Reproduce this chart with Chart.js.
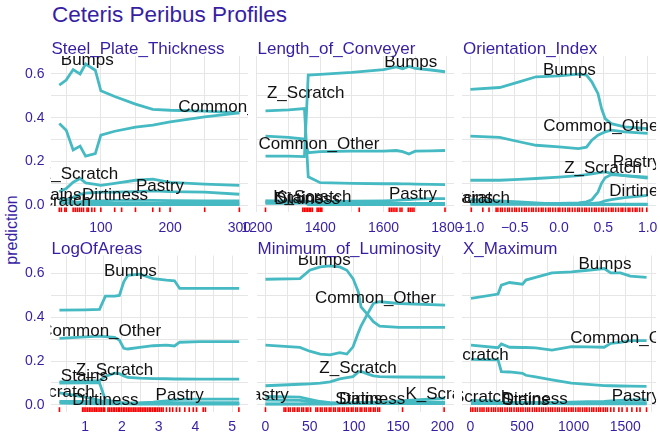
<!DOCTYPE html>
<html>
<head>
<meta charset="utf-8">
<script src="https://cdn.jsdelivr.net/npm/chart.js@4.4.1/dist/chart.umd.min.js"></script>
<style>
  body { margin: 0; background: #fff; }
  #wrap { position: relative; width: 660px; height: 436px; overflow: hidden; font-family: "Liberation Sans", Arial, sans-serif; }
  #title { position: absolute; left: 52px; top: 2px; font-size: 22.5px; line-height: 26px; color: #371ea3; white-space: nowrap; }
  #ylab { position: absolute; left: 12px; top: 230px; transform: translate(-50%, -50%) rotate(-90deg); font-size: 16px; color: #371ea3; white-space: nowrap; }
  canvas { position: absolute; left: 0; }
</style>
</head>
<body>
<div id="wrap">
  <div id="title">Ceteris Peribus Profiles</div>
  <div id="ylab">prediction</div>
</div>
<script>
// y axis (shared by all panels)
const yTicks = [0, 0.2, 0.4, 0.6];
const yMinor = [0.1, 0.3, 0.5];

// Steel_Plate_Thickness
const thickX = [40, 50, 60, 70, 78, 92, 100, 120, 150, 175, 200, 250, 300];
const thickBumps = [0.549, 0.572, 0.62, 0.60, 0.645, 0.617, 0.523, 0.497, 0.462, 0.438, 0.434, 0.43, 0.422];
const thickOther = [0.373, 0.343, 0.252, 0.27, 0.224, 0.236, 0.32, 0.338, 0.357, 0.366, 0.381, 0.404, 0.422];
const thickZ = [0.061, 0.076, 0.105, 0.122, 0.102, 0.095, 0.091, 0.1, 0.114, 0.119, 0.104, 0.096, 0.091];
const thickPastry = [0.02, 0.026, 0.036, 0.05, 0.055, 0.058, 0.06, 0.06, 0.062, 0.065, 0.062, 0.06, 0.05];
const thickDirt = [0.01, 0.011, 0.012, 0.015, 0.018, 0.02, 0.02, 0.022, 0.022, 0.022, 0.021, 0.02, 0.02];
const thickStains = [0.03, 0.026, 0.016, 0.011, 0.009, 0.008, 0.008, 0.008, 0.008, 0.008, 0.008, 0.008, 0.008];
const thickK = [0.012, 0.01, 0.006, 0.004, 0.003, 0.003, 0.003, 0.003, 0.003, 0.003, 0.003, 0.003, 0.003];
const thickRug = [40, 43, 48, 50, 60, 63, 66, 69, 72, 75, 80, 82, 87, 91, 100, 120, 130, 150, 175, 185, 200, 250, 300];
const thickTicks = [100, 200, 300];
const thickMinor = [50, 150, 250];
const thickLabels = [['Bumps', 80.4, 0.67], ['Common_Other', 299, 0.452], ['Z_Scratch', 69.3, 0.146], ['Pastry', 185.4, 0.091],
  ['Stains', 38, 0.051], ['Dirtiness', 120.4, 0.05], ['K_Scratch', 29, 0.026]];

// Length_of_Conveyer
const convX = [1227, 1300, 1350, 1362, 1400, 1500, 1600, 1640, 1660, 1680, 1700, 1750, 1794];
const convBumps = [0.224, 0.224, 0.222, 0.595, 0.598, 0.607, 0.62, 0.632, 0.624, 0.634, 0.625, 0.618, 0.61];
const convOther = [0.316, 0.31, 0.302, 0.24, 0.245, 0.247, 0.247, 0.25, 0.245, 0.234, 0.247, 0.248, 0.25];
const convZ = [0.431, 0.436, 0.442, 0.13, 0.103, 0.1, 0.098, 0.098, 0.097, 0.097, 0.096, 0.095, 0.094];
const convPastry = [0.01, 0.01, 0.012, 0.015, 0.016, 0.018, 0.02, 0.022, 0.024, 0.026, 0.028, 0.03, 0.03];
const convDirt = [0.018, 0.016, 0.015, 0.008, 0.008, 0.008, 0.008, 0.008, 0.008, 0.008, 0.008, 0.008, 0.008];
const convStains = [0.01, 0.01, 0.01, 0.005, 0.005, 0.005, 0.005, 0.005, 0.005, 0.005, 0.005, 0.005, 0.005];
const convK = [0.02, 0.02, 0.02, 0.003, 0.003, 0.003, 0.003, 0.003, 0.003, 0.003, 0.003, 0.003, 0.003];
const convRug = [1227, 1345, 1350, 1355, 1360, 1365, 1370, 1375, 1390, 1395, 1400, 1405, 1523, 1618, 1624, 1630, 1636, 1642,
  1652, 1658, 1678, 1684, 1690, 1696, 1794];
const convTicks = [1200, 1400, 1600, 1800];
const convMinor = [1300, 1500, 1700];
const convLabels = [['Bumps', 1686, 0.659], ['Z_Scratch', 1354, 0.517], ['Common_Other', 1396, 0.283], ['Pastry', 1693, 0.057],
  ['Stains', 1336, 0.038], ['Dirtiness', 1359, 0.035], ['K_Scratch', 1375, 0.043]];

// Orientation_Index
const orientX = [-1.0, -0.67, -0.45, -0.26, 0.0, 0.22, 0.31, 0.37, 0.44, 0.48, 0.52, 0.59, 0.74, 1.0];
const orientBumps = [0.529, 0.538, 0.564, 0.587, 0.591, 0.599, 0.595, 0.564, 0.51, 0.442, 0.396, 0.373, 0.358, 0.35];
const orientOther = [0.316, 0.31, 0.29, 0.274, 0.267, 0.259, 0.265, 0.297, 0.32, 0.328, 0.335, 0.343, 0.335, 0.328];
const orientZ = [0.114, 0.114, 0.118, 0.122, 0.128, 0.135, 0.14, 0.143, 0.148, 0.15, 0.152, 0.145, 0.135, 0.124];
const orientPastry = [0.008, 0.008, 0.008, 0.008, 0.008, 0.01, 0.015, 0.025, 0.06, 0.1, 0.125, 0.14, 0.135, 0.128];
const orientDirt = [0.004, 0.004, 0.004, 0.004, 0.004, 0.005, 0.006, 0.008, 0.01, 0.014, 0.02, 0.025, 0.035, 0.045];
const orientStains = [0.012, 0.01, 0.008, 0.006, 0.005, 0.005, 0.005, 0.005, 0.005, 0.005, 0.005, 0.005, 0.005, 0.005];
const orientK = [0.025, 0.02, 0.015, 0.01, 0.005, 0.003, 0.003, 0.003, 0.003, 0.003, 0.003, 0.003, 0.003, 0.003];
const orientRug = [-0.99, -0.86, -0.79, -0.71, -0.69, -0.66, -0.64, -0.61, -0.58, -0.56, -0.53, -0.5, -0.48, -0.45, -0.42,
  -0.39, -0.37, -0.34, -0.31, -0.29, -0.26, -0.23, -0.2, -0.18, -0.15, -0.12, -0.1, -0.07, -0.04, -0.01, 0.01, 0.04, 0.07,
  0.1, 0.12, 0.15, 0.18, 0.21, 0.23, 0.26, 0.29, 0.31, 0.34, 0.37, 0.4, 0.42, 0.45, 0.48, 0.5, 0.53, 0.56, 0.59, 0.61,
  0.64, 0.67, 0.7, 0.72, 0.75, 0.78, 0.8, 0.83, 0.86, 0.88, 0.91, 0.94, 0.99];
const orientTicks = [-1, -0.5, 0, 0.5, 1];
const orientMinor = [-0.75, -0.25, 0.25, 0.75];
const orientLabels = [['Bumps', 0.117, 0.622], ['Common_Other', 0.504, 0.366], ['Z_Scratch', 0.495, 0.176], ['Pastry', 0.877, 0.203],
  ['Dirtiness', 0.941, 0.07], ['Stains', -1.013, 0.039], ['K_Scratch', -0.997, 0.039]];

// LogOfAreas
const areaX = [0.3, 1.0, 1.39, 1.55, 1.8, 1.93, 2.05, 2.16, 2.48, 2.85, 3.21, 3.43, 3.57, 4.12, 5.19];
const areaBumps = [0.433, 0.434, 0.436, 0.497, 0.497, 0.5, 0.562, 0.592, 0.597, 0.577, 0.57, 0.567, 0.532, 0.532, 0.532];
const areaOther = [0.304, 0.31, 0.314, 0.312, 0.308, 0.296, 0.258, 0.255, 0.262, 0.27, 0.273, 0.269, 0.286, 0.289, 0.289];
const areaZ = [0.105, 0.108, 0.11, 0.13, 0.144, 0.142, 0.132, 0.125, 0.122, 0.12, 0.119, 0.118, 0.118, 0.117, 0.117];
const areaPastry = [0.008, 0.005, 0.004, 0.004, 0.004, 0.004, 0.005, 0.006, 0.008, 0.012, 0.018, 0.022, 0.025, 0.026, 0.026];
const areaDirt = [0.015, 0.015, 0.014, 0.012, 0.01, 0.01, 0.009, 0.009, 0.009, 0.01, 0.01, 0.01, 0.01, 0.01, 0.01];
const areaStains = [0.099, 0.1, 0.1, 0.022, 0.015, 0.01, 0.008, 0.006, 0.005, 0.005, 0.005, 0.005, 0.005, 0.005, 0.005];
const areaK = [0.055, 0.035, 0.02, 0.012, 0.008, 0.006, 0.005, 0.004, 0.003, 0.003, 0.003, 0.003, 0.003, 0.003, 0.003];
const areaRug = [0.3, 0.93, 0.97, 1.02, 1.07, 1.12, 1.16, 1.21, 1.26, 1.3, 1.35, 1.4, 1.44, 1.49, 1.53, 1.62, 1.66, 1.71,
  1.76, 1.8, 1.85, 1.9, 1.94, 1.99, 2.04, 2.08, 2.13, 2.18, 2.22, 2.27, 2.32, 2.36, 2.41, 2.46, 2.5, 2.55, 2.6, 2.64, 2.69,
  2.74, 2.78, 2.83, 2.88, 2.92, 2.97, 3.02, 3.07, 3.12, 3.21, 3.3, 3.38, 3.48, 3.57, 3.71, 3.83, 3.94, 4.03, 4.21, 4.27, 5.18];
const areaTicks = [1, 2, 3, 4, 5];
const areaMinor = [0.5, 1.5, 2.5, 3.5, 4.5];
const areaLabels = [['Bumps', 2.23, 0.618], ['Common_Other', 1.42, 0.34], ['Z_Scratch', 1.8, 0.163], ['Stains', 0.98, 0.134],
  ['K_Scratch', 0.19, 0.065], ['Dirtiness', 1.55, 0.027], ['Pastry', 3.57, 0.05]];

// Minimum_of_Luminosity
const lumX = [0, 39, 50, 62, 73, 84, 92, 99, 105, 108, 116, 122, 129, 151, 203];
const lumBumps = [0.574, 0.577, 0.615, 0.63, 0.635, 0.63, 0.615, 0.577, 0.516, 0.448, 0.41, 0.38, 0.36, 0.354, 0.354];
const lumOther = [0.273, 0.262, 0.245, 0.232, 0.228, 0.238, 0.232, 0.265, 0.33, 0.36, 0.42, 0.463, 0.471, 0.463, 0.456];
const lumZ = [0.087, 0.094, 0.096, 0.099, 0.105, 0.118, 0.124, 0.129, 0.15, 0.152, 0.14, 0.132, 0.129, 0.127, 0.126];
const lumPastry = [0.038, 0.035, 0.025, 0.015, 0.01, 0.008, 0.008, 0.008, 0.008, 0.008, 0.008, 0.008, 0.008, 0.008, 0.008];
const lumDirt = [0.004, 0.004, 0.005, 0.005, 0.006, 0.006, 0.007, 0.01, 0.01, 0.011, 0.011, 0.012, 0.012, 0.012, 0.012];
const lumStains = [0.022, 0.02, 0.015, 0.01, 0.008, 0.007, 0.007, 0.006, 0.006, 0.006, 0.006, 0.006, 0.006, 0.006, 0.006];
const lumK = [0.003, 0.003, 0.003, 0.003, 0.003, 0.004, 0.004, 0.005, 0.006, 0.007, 0.008, 0.009, 0.01, 0.018, 0.03];
const lumRug = [0, 21, 23, 26, 28, 31, 33, 36, 38, 41, 43, 46, 48, 51, 57, 59, 62, 64, 67, 69, 72, 74, 77, 79, 82, 84, 87,
  89, 92, 94, 97, 99, 102, 104, 107, 109, 112, 114, 117, 119, 122, 124, 127, 129, 155, 202];
const lumTicks = [0, 50, 100, 150, 200];
const lumMinor = [25, 75, 125, 175];
const lumLabels = [['Bumps', 66.4, 0.665], ['Common_Other', 124.3, 0.495], ['Z_Scratch', 104.7, 0.174], ['Pastry', -0.8, 0.05],
  ['Stains', 105.6, 0.029], ['Dirtiness', 120.6, 0.032], ['K_Scratch', 202.6, 0.056]];

// X_Maximum
const xmaxX = [6, 268, 300, 379, 505, 537, 632, 790, 979, 1137, 1296, 1359, 1453, 1548, 1706];
const xmaxBumps = [0.486, 0.506, 0.547, 0.559, 0.551, 0.57, 0.582, 0.603, 0.608, 0.615, 0.623, 0.603, 0.603, 0.588, 0.582];
const xmaxOther = [0.273, 0.261, 0.278, 0.263, 0.262, 0.262, 0.26, 0.25, 0.266, 0.265, 0.263, 0.281, 0.285, 0.293, 0.293];
const xmaxZ = [0.208, 0.205, 0.152, 0.15, 0.144, 0.135, 0.128, 0.114, 0.099, 0.093, 0.088, 0.087, 0.086, 0.085, 0.084];
const xmaxPastry = [0.01, 0.01, 0.01, 0.01, 0.01, 0.01, 0.01, 0.011, 0.012, 0.014, 0.016, 0.018, 0.02, 0.022, 0.023];
const xmaxDirt = [0.012, 0.012, 0.011, 0.011, 0.01, 0.01, 0.01, 0.01, 0.01, 0.01, 0.01, 0.01, 0.01, 0.01, 0.01];
const xmaxStains = [0.006, 0.006, 0.005, 0.005, 0.005, 0.005, 0.005, 0.005, 0.005, 0.005, 0.005, 0.005, 0.005, 0.005, 0.005];
const xmaxK = [0.02, 0.018, 0.01, 0.008, 0.006, 0.005, 0.005, 0.005, 0.004, 0.004, 0.004, 0.004, 0.004, 0.004, 0.004];
const xmaxRug = [4, 24, 47, 68, 93, 113, 132, 158, 177, 203, 224, 243, 268, 290, 309, 335, 357, 380, 398, 423, 447, 466,
  489, 510, 534, 555, 574, 600, 623, 643, 666, 689, 708, 731, 755, 776, 796, 820, 843, 862, 887, 909, 929, 953, 976, 995,
  1020, 1043, 1062, 1086, 1109, 1128, 1152, 1176, 1195, 1219, 1242, 1261, 1286, 1308, 1327, 1359, 1390, 1438, 1469, 1517,
  1564, 1611, 1643, 1706];
const xmaxTicks = [0, 500, 1000, 1500];
const xmaxMinor = [250, 750, 1250, 1750];
const xmaxLabels = [['Bumps', 1303, 0.649], ['Common_Other', 1553, 0.311], ['Z_Scratch', -5, 0.23], ['K_Scratch', 9.5, 0.038],
  ['Stains', 537, 0.026], ['Dirtiness', 624, 0.032], ['Pastry', 1602, 0.045]];

// layout of the facet grid
const TEAL = '#46bac2';
const INK = '#371ea3';
const FONT = '"Liberation Sans", Arial, sans-serif';
const Y_MIN = -0.0325, Y_MAX = 0.682, RUG_Y = -0.0218;
const COL_LEFT = [50.5, 256.5, 462], PANEL_W = 197.5;
const ROW_TOP = [56, 255.6], PANEL_H = 156.3;
const ROW_CANVAS = [[30, 234], [234, 436]];
const Y_AXIS_W = 50;

const panels = [
  { title: 'Steel_Plate_Thickness', row: 0, col: 0, x: thickX, lines: [thickBumps, thickOther, thickZ, thickPastry, thickDirt, thickStains, thickK],
    rug: thickRug, labels: thickLabels, ticks: thickTicks, minor: thickMinor, min: 27.3, max: 312.5 },
  { title: 'Length_of_Conveyer', row: 0, col: 1, x: convX, lines: [convBumps, convOther, convZ, convPastry, convDirt, convStains, convK],
    rug: convRug, labels: convLabels, ticks: convTicks, minor: convMinor, min: 1198.6, max: 1822.4 },
  { title: 'Orientation_Index', row: 0, col: 2, x: orientX, lines: [orientBumps, orientOther, orientZ, orientPastry, orientDirt, orientStains, orientK],
    rug: orientRug, labels: orientLabels, ticks: orientTicks, minor: orientMinor, min: -1.095, max: 1.095, dec: 1 },
  { title: 'LogOfAreas', row: 1, col: 0, x: areaX, lines: [areaBumps, areaOther, areaZ, areaPastry, areaDirt, areaStains, areaK],
    rug: areaRug, labels: areaLabels, ticks: areaTicks, minor: areaMinor, min: 0.057, max: 5.428 },
  { title: 'Minimum_of_Luminosity', row: 1, col: 1, x: lumX, lines: [lumBumps, lumOther, lumZ, lumPastry, lumDirt, lumStains, lumK],
    rug: lumRug, labels: lumLabels, ticks: lumTicks, minor: lumMinor, min: -10.15, max: 213.15 },
  { title: 'X_Maximum', row: 1, col: 2, x: xmaxX, lines: [xmaxBumps, xmaxOther, xmaxZ, xmaxPastry, xmaxDirt, xmaxStains, xmaxK],
    rug: xmaxRug, labels: xmaxLabels, ticks: xmaxTicks, minor: xmaxMinor, min: -81, max: 1798 }
];

function isIn(list, v) {
  return list.some(t => Math.abs(t - v) < 1e-9);
}

function fmt(v, dec) {
  const s = dec ? v.toFixed(dec) : String(v);
  return s.replace('-', '\u2212');
}

// text labels on the lines and the strip title, clipped like ggplot panels
function panelText(p) {
  return {
    id: 'panelText',
    afterDatasetsDraw(chart) {
      const { ctx, chartArea: a, scales } = chart;
      ctx.save();
      ctx.beginPath();
      ctx.rect(a.left, a.top, a.right - a.left, a.bottom - a.top);
      ctx.clip();
      ctx.font = '17px ' + FONT;
      ctx.fillStyle = '#111';
      ctx.textAlign = 'center';
      ctx.textBaseline = 'alphabetic';
      p.labels.forEach(l => {
        ctx.fillText(l[0], scales.x.getPixelForValue(l[1]), scales.y.getPixelForValue(l[2]) + 6);
      });
      ctx.restore();

      ctx.save();
      ctx.font = '17px ' + FONT;
      ctx.fillStyle = INK;
      ctx.textAlign = 'left';
      ctx.textBaseline = 'alphabetic';
      ctx.fillText(p.title, a.left + 1, a.top - 2);
      ctx.restore();
    }
  };
}

const wrap = document.getElementById('wrap');

panels.forEach(p => {
  const [cTop, cBot] = ROW_CANVAS[p.row];
  const cv = document.createElement('canvas');
  cv.width = 660;
  cv.height = cBot - cTop;
  cv.style.top = cTop + 'px';
  wrap.appendChild(cv);

  const datasets = p.lines.map(ys => ({
    data: p.x.map((x, i) => ({ x: x, y: ys[i] })),
    borderColor: TEAL,
    borderWidth: 2.8,
    pointRadius: 0,
    tension: 0,
    fill: false
  }));
  datasets.push({
    data: p.rug.map(v => ({ x: v, y: RUG_Y })),
    showLine: false,
    pointStyle: 'line',
    pointRotation: 90,
    pointRadius: 2.35,
    pointBorderColor: 'red',
    pointBorderWidth: 1.6,
    pointHoverRadius: 0
  });

  const xAll = p.minor.concat(p.ticks).sort((a, b) => a - b);
  const yAll = yMinor.concat(yTicks).sort((a, b) => a - b);

  new Chart(cv, {
    type: 'line',
    data: { datasets: datasets },
    plugins: [panelText(p)],
    options: {
      responsive: false,
      animation: false,
      events: [],
      layout: {
        padding: {
          top: ROW_TOP[p.row] - cTop,
          left: COL_LEFT[p.col] - Y_AXIS_W,
          right: 660 - (COL_LEFT[p.col] + PANEL_W),
          bottom: 0
        }
      },
      plugins: { legend: { display: false }, tooltip: { enabled: false } },
      scales: {
        x: {
          type: 'linear',
          min: p.min,
          max: p.max,
          afterBuildTicks: s => { s.ticks = xAll.map(v => ({ value: v })); },
          afterFit: s => {
            s.height = cBot - (ROW_TOP[p.row] + PANEL_H);
            s.paddingLeft = 0; s.paddingRight = 0;
          },
          grid: { color: '#e6e6e6', lineWidth: 1, drawTicks: false },
          border: { display: false },
          ticks: {
            autoSkip: false, maxRotation: 0, padding: 7, color: INK,
            font: { family: FONT, size: 14 },
            callback: v => isIn(p.ticks, v) ? fmt(v, p.dec) : ''
          }
        },
        y: {
          min: Y_MIN,
          max: Y_MAX,
          afterBuildTicks: s => { s.ticks = yAll.map(v => ({ value: v })); },
          afterFit: s => {
            s.width = Y_AXIS_W;
            s.paddingTop = 0; s.paddingBottom = 0;
          },
          grid: { color: '#e6e6e6', lineWidth: 1, drawTicks: false },
          border: { display: false },
          ticks: {
            display: p.col === 0, padding: 6, color: INK,
            font: { family: FONT, size: 14 },
            callback: v => isIn(yTicks, v) ? v.toFixed(1) : ''
          }
        }
      }
    }
  });
});
</script>
</body>
</html>
